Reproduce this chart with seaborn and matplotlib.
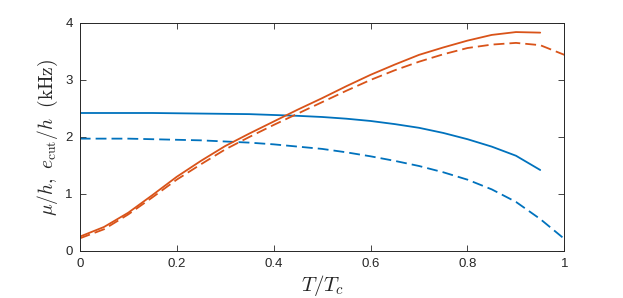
import numpy as np
import pandas as pd
import matplotlib
matplotlib.use("Agg")
import matplotlib.pyplot as plt
import seaborn as sns

# values (T/Tc vs kHz)
t_mu = [0.0, 0.05, 0.1, 0.15, 0.2, 0.25, 0.3, 0.35, 0.4, 0.45, 0.5, 0.55, 0.6, 0.65, 0.7, 0.75, 0.8, 0.85, 0.9, 0.95]
mu_solid = [2.42, 2.42, 2.42, 2.42, 2.415, 2.41, 2.405, 2.40, 2.385, 2.37, 2.35, 2.32, 2.28, 2.225, 2.16, 2.07, 1.96, 1.83, 1.67, 1.42]
t_mu2 = [0.0, 0.05, 0.1, 0.15, 0.2, 0.25, 0.3, 0.35, 0.4, 0.45, 0.5, 0.55, 0.6, 0.65, 0.7, 0.75, 0.8, 0.85, 0.9, 0.95, 1.0]
mu_dash = [1.97, 1.97, 1.97, 1.96, 1.95, 1.94, 1.92, 1.90, 1.87, 1.83, 1.79, 1.73, 1.66, 1.58, 1.49, 1.38, 1.25, 1.08, 0.86, 0.56, 0.21]
e_solid = [0.25, 0.42, 0.67, 0.98, 1.30, 1.58, 1.84, 2.06, 2.27, 2.48, 2.68, 2.89, 3.09, 3.27, 3.44, 3.57, 3.69, 3.79, 3.84, 3.83]
e_dash = [0.22, 0.38, 0.64, 0.94, 1.25, 1.52, 1.78, 2.00, 2.21, 2.41, 2.61, 2.81, 3.00, 3.17, 3.32, 3.45, 3.56, 3.62, 3.65, 3.61, 3.44]

blue = "#0072BD"
orange = "#D95319"
axcol = "#262626"
dash = (0, (6, 2.8))

sns.set_style("white")
plt.rcParams["font.family"] = ["Liberation Sans", "DejaVu Sans"]
plt.rcParams["mathtext.fontset"] = "cm"

fig, ax = plt.subplots(figsize=(6.23, 2.98), dpi=100)
fig.subplots_adjust(left=0.128, right=0.906, top=0.923, bottom=0.158)

sns.lineplot(x=t_mu, y=mu_solid, color=blue, lw=1.3, ax=ax)
sns.lineplot(x=t_mu2, y=mu_dash, color=blue, lw=1.3, ls=dash, ax=ax)
sns.lineplot(x=t_mu, y=e_solid, color=orange, lw=1.3, ax=ax)
sns.lineplot(x=t_mu2, y=e_dash, color=orange, lw=1.3, ls=dash, ax=ax)

ax.set_xlim(0, 1)
ax.set_ylim(0, 4)
ax.set_xticks([0, 0.2, 0.4, 0.6, 0.8, 1])
ax.set_xticklabels(["0", "0.2", "0.4", "0.6", "0.8", "1"])
ax.set_yticks([0, 1, 2, 3, 4])
ax.tick_params(direction="in", length=4, width=0.6, colors=axcol, labelsize=9.5,
               top=True, right=True, bottom=True, left=True, pad=5)
for s in ax.spines.values():
    s.set_color(axcol)
    s.set_linewidth(0.7)

ax.set_xlabel(r"$T/T_c$", fontsize=15, color=axcol, labelpad=2)
ax.set_ylabel(r"$\mu/h,\ e_{\rm cut}/h\ \ (\rm kHz)$", fontsize=14, color=axcol, labelpad=4)

fig.savefig("out.png", dpi=100)
